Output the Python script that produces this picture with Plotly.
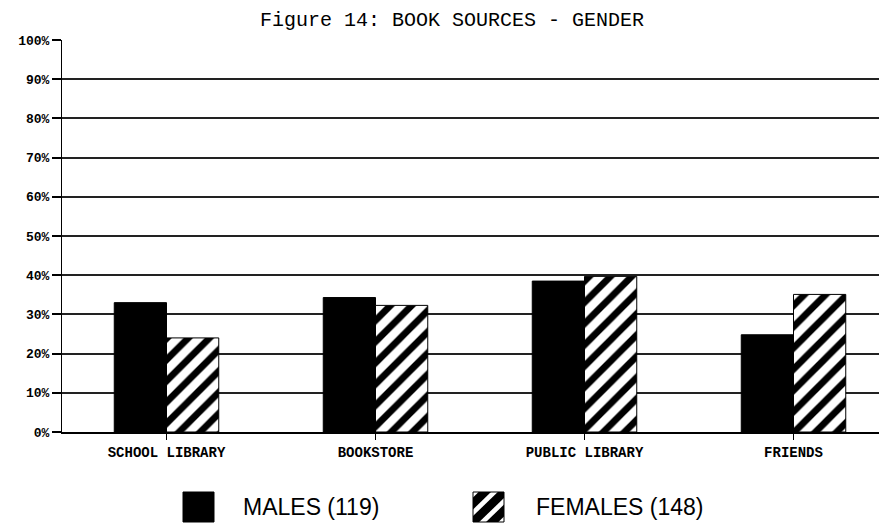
import plotly.graph_objects as go

# ---- data ----
categories = ["SCHOOL LIBRARY", "BOOKSTORE", "PUBLIC LIBRARY", "FRIENDS"]
males = [33.0, 34.3, 38.5, 24.8]
females = [24.0, 32.3, 39.7, 35.1]
y_tick_vals = [0, 10, 20, 30, 40, 50, 60, 70, 80, 90, 100]
y_tick_text = ["0%", "10%", "20%", "30%", "40%", "50%", "60%", "70%", "80%", "90%", "100%"]
title_text = "Figure 14: BOOK SOURCES - GENDER"
legend_males = "MALES (119)"
legend_females = "FEMALES (148)"

# ---- layout geometry (pixels of the target page) ----
OFF = 8                      # default body margin of the html page
W, H = 887 - OFF, 525 - OFF  # figure size so it fits the window
PLOT_L, PLOT_R, PLOT_T, PLOT_B = 62, 887, 40, 432   # plot area in page pixels
ML = PLOT_L - OFF
MR = 0
MT = PLOT_T - OFF
MB = H - (PLOT_B - OFF)
PW = W - ML - MR
PH = H - MT - MB


def px_x(x):
    return (x - PLOT_L) / PW


def px_y(y):
    return (PLOT_B - y) / PH


fig = go.Figure()
fig.add_trace(go.Bar(
    x=categories, y=males, name=legend_males,
    marker=dict(color="black", line=dict(color="black", width=1)),
    showlegend=False,
))
fig.add_trace(go.Bar(
    x=categories, y=females, name=legend_females,
    marker=dict(color="white", line=dict(color="black", width=1),
                pattern=dict(shape="/", fgcolor="black", bgcolor="white",
                             fgopacity=1, size=15, solidity=0.45,
                             fillmode="replace")),
    showlegend=False,
))

shapes = []
# black legend square
shapes.append(dict(type="rect", xref="paper", yref="paper",
                   x0=px_x(183), x1=px_x(214), y0=px_y(522), y1=px_y(492),
                   fillcolor="black", line=dict(color="black", width=1)))


def clip(poly, edges):
    out = poly
    for (axis, val, keep_ge) in edges:
        inp = out
        out = []
        n = len(inp)
        for i in range(n):
            a = inp[i]
            b = inp[(i + 1) % n]
            ina = (a[axis] >= val) if keep_ge else (a[axis] <= val)
            inb = (b[axis] >= val) if keep_ge else (b[axis] <= val)
            if ina:
                out.append(a)
            if ina != inb:
                t = (val - a[axis]) / (b[axis] - a[axis])
                out.append((a[0] + t * (b[0] - a[0]), a[1] + t * (b[1] - a[1])))
    return out


# hatched legend square
hx0, hx1, hy0, hy1 = 473, 504, 492, 522
shapes.append(dict(type="rect", xref="paper", yref="paper",
                   x0=px_x(hx0), x1=px_x(hx1), y0=px_y(hy1), y1=px_y(hy0),
                   fillcolor="white", line=dict(color="black", width=1)))
for c in (-0.62, 0.0, 0.62):
    w = 0.2
    big = [(c - w - 2, -2), (c + w - 2, -2), (c + w + 2, 2), (c - w + 2, 2)]
    poly = clip(big, [(0, 0, True), (0, 1, False), (1, 0, True), (1, 1, False)])
    if len(poly) < 3:
        continue
    pts = []
    for (u, v) in poly:
        X = hx0 + u * (hx1 - hx0)
        Y = hy1 - v * (hy1 - hy0)
        pts.append(f"{px_x(X):.5f},{px_y(Y):.5f}")
    path = "M " + " L ".join(pts) + " Z"
    shapes.append(dict(type="path", xref="paper", yref="paper", path=path,
                       fillcolor="black", line=dict(width=0)))

annotations = [
    dict(text=legend_males, xref="paper", yref="paper", x=px_x(241), y=px_y(507),
         xanchor="left", yanchor="middle", showarrow=False,
         font=dict(family="Liberation Sans, Arial", size=23, color="black")),
    dict(text=legend_females, xref="paper", yref="paper", x=px_x(534), y=px_y(507),
         xanchor="left", yanchor="middle", showarrow=False,
         font=dict(family="Liberation Sans, Arial", size=23, color="black")),
]

fig.update_layout(
    width=W, height=H,
    margin=dict(l=ML, r=MR, t=MT, b=MB, pad=0, autoexpand=False),
    paper_bgcolor="white", plot_bgcolor="white",
    barmode="group", bargap=0.5, bargroupgap=0,
    title=dict(text=title_text, x=(452 - OFF) / W, xanchor="center",
               y=1 - (19 - OFF) / H, yanchor="middle", yref="container",
               font=dict(family="Liberation Mono, Courier New, monospace", size=20, color="black")),
    shapes=shapes,
    annotations=annotations,
    showlegend=False,
)
fig.update_xaxes(
    range=[-0.5, -0.5 + PW / 209.0],
    automargin=False,
    showline=True, linecolor="black", linewidth=1.5,
    ticks="outside", ticklen=6, tickcolor="black", tickwidth=1,
    showgrid=False,
    tickfont=dict(family="Liberation Mono, Courier New, monospace", size=14,
                  color="black", weight="bold"),
)
fig.update_yaxes(
    range=[0, 100],
    automargin=False,
    tickvals=y_tick_vals, ticktext=y_tick_text,
    showline=True, linecolor="black", linewidth=1,
    ticks="outside", ticklen=9, tickcolor="black", tickwidth=1.5,
    showgrid=True, gridcolor="#222222", gridwidth=1.5,
    zeroline=False,
    tickfont=dict(family="Liberation Mono, Courier New, monospace", size=13,
                  color="black", weight="bold"),
)

fig.write_html("out.html")
